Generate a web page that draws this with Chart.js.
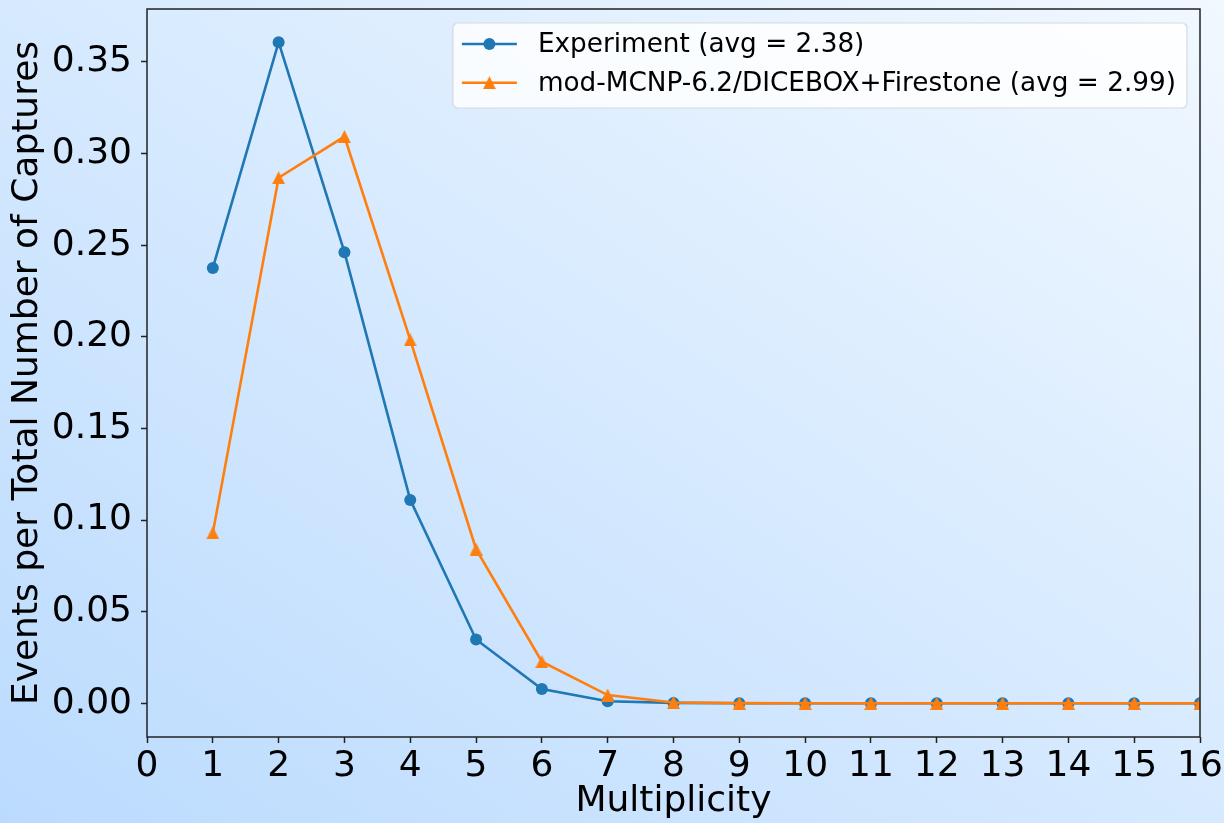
<!DOCTYPE html>
<html lang="en">
<head>
<meta charset="utf-8">
<title>Multiplicity distribution</title>
<script src="https://cdn.jsdelivr.net/npm/chart.js@4.4.1/dist/chart.umd.min.js"></script>
<style>
  html, body { margin: 0; padding: 0; overflow: hidden; background: #d6e9fe; }
  #wrap { width: 1224px; height: 823px; }
</style>
</head>
<body>
<div id="wrap"><canvas id="multChart" width="1224" height="823"></canvas></div>
<script>
// gamma multiplicity per capture, normalised to total captures
const multiplicity = [1, 2, 3, 4, 5, 6, 7, 8, 9, 10, 11, 12, 13, 14, 15, 16];
const experiment = [0.2376, 0.3608, 0.2462, 0.1110, 0.0348, 0.0078, 0.0011, 0.0002, 0.0, 0.0, 0.0, 0.0, 0.0, 0.0, 0.0, 0.0];
const simulation = [0.0930, 0.2868, 0.3093, 0.1983, 0.0841, 0.0227, 0.0045, 0.0004, 0.0001, 0.0, 0.0, 0.0, 0.0, 0.0, 0.0, 0.0];
const expLabel = 'Experiment (avg = 2.38)';
const simLabel = 'mod-MCNP-6.2/DICEBOX+Firestone (avg = 2.99)';
const xTicks = [0, 1, 2, 3, 4, 5, 6, 7, 8, 9, 10, 11, 12, 13, 14, 15, 16];
const yTicks = [0, 0.05, 0.10, 0.15, 0.20, 0.25, 0.30, 0.35];

const FONT = 'DejaVu Sans';
const BLUE = '#1f77b4';
const ORANGE = '#ff7f0e';

// matplotlib style '^' marker (as wide as it is tall)
function triangleMarker(size, color) {
  const c = document.createElement('canvas');
  c.width = size; c.height = size;
  const g = c.getContext('2d');
  g.fillStyle = color;
  g.beginPath();
  g.moveTo(size / 2, 0);
  g.lineTo(size, size);
  g.lineTo(0, size);
  g.closePath();
  g.fill();
  return c;
}
const triMarker = triangleMarker(13, ORANGE);

// figure background: diagonal light-blue gradient
const backgroundPlugin = {
  id: 'bg',
  beforeDraw(chart) {
    const { ctx, width, height } = chart;
    const grad = ctx.createLinearGradient(0, height, 762, -310);
    grad.addColorStop(0, '#bbdbfe');
    grad.addColorStop(1, '#f1f8ff');
    ctx.save();
    ctx.fillStyle = grad;
    ctx.fillRect(0, 0, width, height);
    ctx.restore();
  }
};

// full box around the axes
const framePlugin = {
  id: 'frame',
  afterDatasetsDraw(chart) {
    const { ctx, chartArea: a } = chart;
    ctx.save();
    ctx.strokeStyle = '#222';
    ctx.lineWidth = 1.5;
    ctx.strokeRect(a.left, a.top, a.right - a.left, a.bottom - a.top);
    ctx.restore();
  }
};

// legend box in the upper right corner, line + marker handles
const legendPlugin = {
  id: 'boxLegend',
  afterDraw(chart) {
    const { ctx, chartArea: a } = chart;
    const fontSize = 26.3;
    ctx.save();
    ctx.font = fontSize + 'px "' + FONT + '"';
    const entries = chart.data.datasets.map(ds => ds);
    const textW = Math.max(...entries.map(ds => ctx.measureText(ds.label).width));
    const boxRight = a.right - 13;
    const boxTop = a.top + 14;
    const textX = boxRight - 11 - textW;
    const handleEnd = textX - 21;
    const handleStart = handleEnd - 55;
    const boxLeft = handleStart - 9;
    const rowH = 38.7;
    const boxH = 85;

    ctx.beginPath();
    ctx.roundRect(boxLeft, boxTop, boxRight - boxLeft, boxH, 5);
    ctx.fillStyle = 'rgba(255,255,255,0.82)';
    ctx.fill();
    ctx.strokeStyle = 'rgba(210,214,220,0.9)';
    ctx.lineWidth = 1.2;
    ctx.stroke();

    entries.forEach((ds, i) => {
      const y = boxTop + 21 + i * rowH;
      ctx.strokeStyle = ds.borderColor;
      ctx.lineWidth = ds.borderWidth;
      ctx.beginPath();
      ctx.moveTo(handleStart, y);
      ctx.lineTo(handleEnd, y);
      ctx.stroke();
      const mx = (handleStart + handleEnd) / 2;
      if (ds.pointStyle === 'circle') {
        ctx.fillStyle = ds.pointBackgroundColor;
        ctx.beginPath();
        ctx.arc(mx, y, ds.pointRadius, 0, Math.PI * 2);
        ctx.fill();
      } else {
        ctx.drawImage(ds.pointStyle, mx - ds.pointStyle.width / 2, y - ds.pointStyle.height / 2);
      }
      ctx.fillStyle = '#000';
      ctx.textBaseline = 'middle';
      ctx.textAlign = 'left';
      ctx.fillText(ds.label, textX, y + 1);
    });
    ctx.restore();
  }
};

const ctx = document.getElementById('multChart').getContext('2d');
const chart = new Chart(ctx, {
  type: 'line',
  data: {
    datasets: [
      {
        label: expLabel,
        data: multiplicity.map((m, i) => ({ x: m, y: experiment[i] })),
        borderColor: BLUE,
        backgroundColor: BLUE,
        pointBackgroundColor: BLUE,
        borderWidth: 2.6,
        pointRadius: 6,
        pointBorderWidth: 0,
        pointStyle: 'circle',
        tension: 0,
        clip: 0,
        order: 2
      },
      {
        label: simLabel,
        data: multiplicity.map((m, i) => ({ x: m, y: simulation[i] })),
        borderColor: ORANGE,
        backgroundColor: ORANGE,
        pointBackgroundColor: ORANGE,
        borderWidth: 2.6,
        pointRadius: 6,
        pointBorderWidth: 0,
        pointStyle: triMarker,
        tension: 0,
        clip: 0,
        order: 1
      }
    ]
  },
  options: {
    responsive: false,
    animation: false,
    devicePixelRatio: 1,
    layout: { padding: { top: 9, right: 24, bottom: 0, left: 0 } },
    plugins: {
      legend: { display: false },
      tooltip: { enabled: false }
    },
    scales: {
      x: {
        type: 'linear',
        min: 0,
        max: 16,
        afterBuildTicks: s => { s.ticks = xTicks.map(v => ({ value: v })); },
        afterFit: s => { s.height = 86; s.paddingLeft = 0; s.paddingRight = 0; },
        ticks: {
          font: { family: FONT, size: 36 },
          color: '#000',
          padding: 2,
          maxRotation: 0,
          autoSkip: false,
          callback: v => String(v)
        },
        grid: { drawOnChartArea: false, drawTicks: true, tickLength: 6, tickColor: '#222', tickWidth: 1.5 },
        border: { display: false },
        title: {
          display: true,
          text: 'Multiplicity',
          font: { family: FONT, size: 36 },
          color: '#000',
          padding: { top: 0, bottom: 0 }
        }
      },
      y: {
        type: 'linear',
        min: -0.0184,
        max: 0.3789,
        afterBuildTicks: s => { s.ticks = yTicks.map(v => ({ value: v })); },
        afterFit: s => { s.width = 147; s.paddingTop = 0; s.paddingBottom = 0; },
        ticks: {
          font: { family: FONT, size: 36 },
          color: '#000',
          padding: 9,
          callback: v => v.toFixed(2)
        },
        grid: { drawOnChartArea: false, drawTicks: true, tickLength: 6, tickColor: '#222', tickWidth: 1.5 },
        border: { display: false },
        title: {
          display: true,
          text: 'Events per Total Number of Captures',
          font: { family: FONT, size: 36 },
          color: '#000',
          padding: { top: 6, bottom: 0 }
        }
      }
    }
  },
  plugins: [backgroundPlugin, framePlugin, legendPlugin]
});
</script>
</body>
</html>
